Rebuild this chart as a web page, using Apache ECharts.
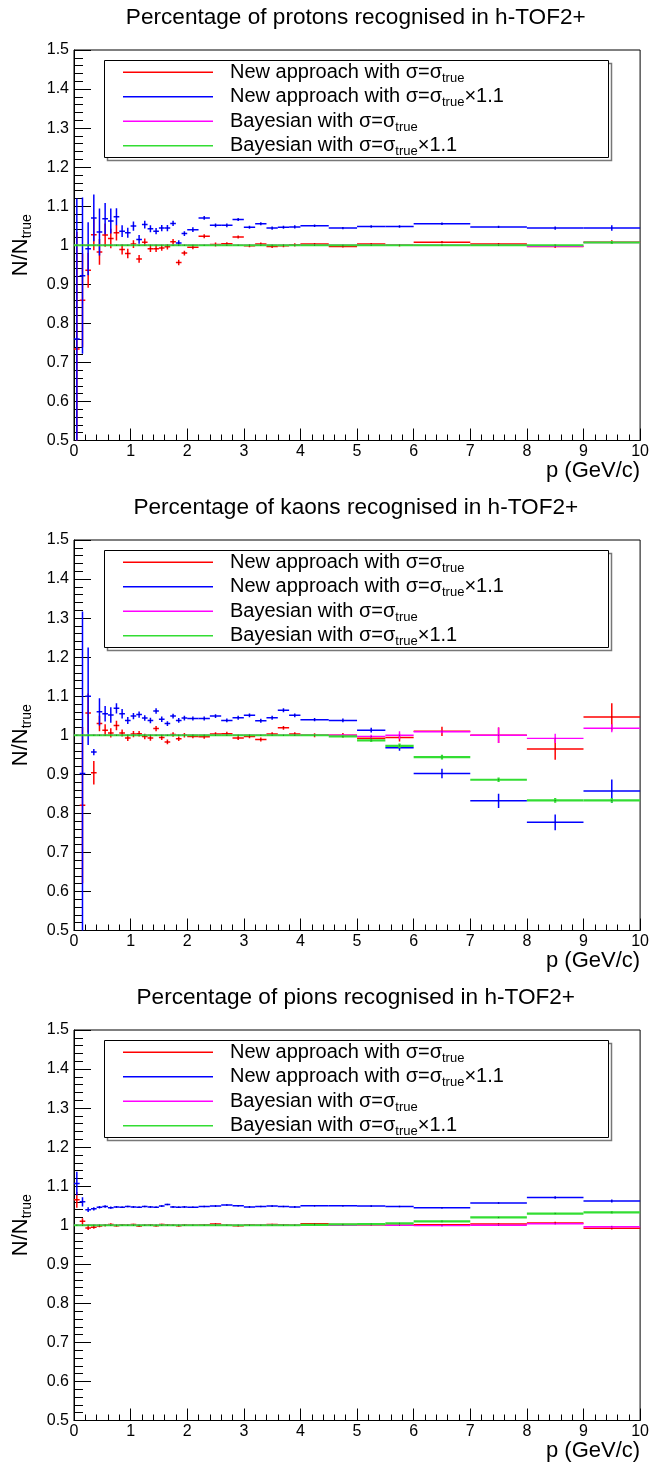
<!DOCTYPE html>
<html>
<head>
<meta charset="utf-8">
<script src="https://cdn.jsdelivr.net/npm/echarts@6/dist/echarts.min.js"></script>
<style>
html,body{margin:0;padding:0;background:#fff;}
#chart{width:652px;height:1466px;}
</style>
</head>
<body>
<div id="chart"></div>
<script>
// ---------------- data ----------------
// bin edges in p (GeV/c)
const binEdges = [0,0.1,0.2,0.3,0.4,0.5,0.6,0.7,0.8,0.9,1.0,1.1,1.2,1.3,1.4,1.5,1.6,1.7,1.8,1.9,2.0,
  2.2,2.4,2.6,2.8,3.0,3.2,3.4,3.6,3.8,4.0,4.5,5.0,5.5,6.0,7,8,9,10];

const panelTitles = [
  'Percentage of protons recognised in h-TOF2+',
  'Percentage of kaons recognised in h-TOF2+',
  'Percentage of pions recognised in h-TOF2+'
];
const seriesNames = [
  'New approach with σ=σtrue',
  'New approach with σ=σtrue×1.1',
  'Bayesian with σ=σtrue',
  'Bayesian with σ=σtrue×1.1'
];
const legendLabels = [
  'New approach with σ=σ{sub|true}',
  'New approach with σ=σ{sub|true}×1.1',
  'Bayesian with σ=σ{sub|true}',
  'Bayesian with σ=σ{sub|true}×1.1'
];
const xTickLabels = ['0','1','2','3','4','5','6','7','8','9','10'];

// ---- protons ----
const protonNewVal = [0.734,0.859,0.936,1.027,0.983,1.026,1.017,1.032,0.989,0.979,
  1.003,0.965,1.008,0.991,0.991,0.993,0.996,1.009,0.956,0.980,
  0.995,1.023,1.002,1.004,1.021,0.999,1.003,0.997,0.999,1.001,
  1.003,0.997,1.003,1.000, 1.008,1.003,0.997,1.008];
const protonNewErr = [0.30,0.12,0.045,0.040,0.033,0.030,0.025,0.020,0.013,0.012,
  0.010,0.010,0.009,0.008,0.008,0.007,0.007,0.007,0.007,0.006,
  0.005,0.005,0.005,0.004,0.004,0.004,0.004,0.004,0.004,0.004,
  0.003,0.003,0.003,0.003, 0.003,0.003,0.004,0.005];
const protonNew11Val = [0.760,0.922,0.991,1.070,1.034,1.068,1.062,1.073,1.036,1.032,
  1.049,1.015,1.053,1.042,1.036,1.044,1.044,1.056,1.006,1.030,
  1.040,1.070,1.051,1.051,1.066,1.046,1.055,1.044,1.046,1.047,
  1.050,1.044,1.048,1.048, 1.055,1.047,1.044,1.044];
const protonNew11Err = [0.36,0.20,0.068,0.060,0.060,0.040,0.032,0.022,0.015,0.013,
  0.012,0.011,0.010,0.009,0.008,0.008,0.008,0.007,0.007,0.006,
  0.006,0.005,0.005,0.005,0.004,0.004,0.004,0.004,0.004,0.004,
  0.003,0.003,0.003,0.003, 0.003,0.003,0.004,0.007];
const protonBayVal = [1,1,1,1,1,1,1,1,1,1, 1,1,1,1,1,1,1,1,1,1,
  1,1,1,1,1,1,1,1,1,1, 1,1,1,1, 1,1,0.997,1.007];
const protonBayErr = [0,0,0,0,0,0,0,0,0,0, 0,0,0,0,0,0,0,0,0,0,
  0,0,0,0,0,0,0,0,0,0, 0,0,0,0, 0.001,0.001,0.002,0.004];
const protonBay11Val = [1,1,1,1,1,1,1,1,1,1, 1,1,1,1,1,1,1,1,1,1,
  1,1,1,1,1,1,1,1,1,1, 1,1,1,1, 1,1,1,1.007];
const protonBay11Err = [0,0,0,0,0,0,0,0,0,0, 0,0,0,0,0,0,0,0,0,0,
  0,0,0,0,0,0,0,0,0,0, 0,0,0,0, 0.001,0.001,0.002,0.004];

// ---- kaons ----
const kaonNewVal = [null,0.821,1.057,0.904,1.030,1.013,1.006,1.025,1.006,0.993,
  1.003,1.004,0.997,0.993,1.017,0.994,0.983,1.002,0.991,1.000,
  0.997,0.996,1.003,1.004,0.993,0.997,0.989,1.003,1.019,1.003,
  1.000,1.000,0.992,0.994, 1.010,1.000,0.965,1.047];
const kaonNewErr = [null,0.20,0.050,0.030,0.020,0.015,0.012,0.012,0.009,0.008,
  0.008,0.007,0.007,0.007,0.007,0.006,0.006,0.006,0.006,0.006,
  0.005,0.005,0.005,0.005,0.005,0.005,0.005,0.005,0.005,0.005,
  0.005,0.006,0.007,0.010, 0.012,0.020,0.028,0.035];
const kaonNew11Val = [null,0.902,1.100,0.957,1.060,1.055,1.052,1.069,1.055,1.038,
  1.049,1.053,1.044,1.038,1.062,1.041,1.030,1.049,1.038,1.044,
  1.043,1.043,1.049,1.038,1.045,1.051,1.037,1.045,1.064,1.051,
  1.040,1.038,1.013,0.968, 0.902,0.832,0.777,0.857];
const kaonNew11Err = [null,0.415,0.125,0.008,0.035,0.020,0.020,0.013,0.012,0.009,
  0.008,0.008,0.007,0.007,0.007,0.007,0.006,0.006,0.006,0.006,
  0.005,0.005,0.005,0.005,0.005,0.005,0.005,0.005,0.005,0.005,
  0.004,0.005,0.006,0.008, 0.012,0.018,0.020,0.030];
const kaonBayVal = [1,1,1,1,1,1,1,1,1,1, 1,1,1,1,1,1,1,1,1,1,
  1,1,1,1,1,1,1,1,1,1, 1,1,0.997,1.000, 1.009,1.000,0.992,1.018];
const kaonBayErr = [0,0,0,0,0,0,0,0,0,0, 0,0,0,0,0,0,0,0,0,0,
  0,0,0,0,0,0,0,0,0,0, 0.002,0.003,0.004,0.010, 0.004,0.020,0.012,0.010];
const kaonBay11Val = [1,1,1,1,1,1,1,1,1,1, 1,1,1,1,1,1,1,1,1,1,
  1,1,1,1,1,1,1,1,1,1, 1,0.997,0.987,0.973, 0.944,0.886,0.833,0.833];
const kaonBay11Err = [0,0,0,0,0,0,0,0,0,0, 0,0,0,0,0,0,0,0,0,0,
  0,0,0,0,0,0,0,0,0,0, 0.002,0.003,0.004,0.006, 0.006,0.006,0.006,0.006];

// ---- pions ----
const pionNewVal = [1.065,1.010,0.993,0.995,0.998,1.000,1.002,0.999,1.001,1.000,
  1.002,0.998,1.000,1.001,0.999,1.002,1.001,1.000,0.999,1.001,
  1.000,1.001,1.003,1.000,0.999,1.001,1.000,1.002,1.001,1.000,
  1.004,1.002,1.001,1.000, 1.001,1.003,1.006,0.992];
const pionNewErr = [0.020,0.008,0.005,0.004,0.003,0.003,0.003,0.002,0.002,0.002,
  0.002,0.002,0.002,0.002,0.002,0.002,0.002,0.002,0.002,0.002,
  0.002,0.002,0.002,0.002,0.002,0.002,0.002,0.002,0.002,0.002,
  0.002,0.002,0.002,0.002, 0.002,0.002,0.003,0.003];
const pionNew11Val = [1.107,1.060,1.040,1.042,1.046,1.048,1.045,1.047,1.046,1.048,
  1.047,1.046,1.048,1.047,1.046,1.049,1.053,1.047,1.046,1.047,
  1.046,1.048,1.049,1.052,1.050,1.047,1.048,1.049,1.048,1.047,
  1.050,1.050,1.049,1.048, 1.045,1.057,1.071,1.062];
const pionNew11Err = [0.030,0.012,0.006,0.004,0.003,0.003,0.003,0.002,0.002,0.002,
  0.002,0.002,0.002,0.002,0.002,0.002,0.002,0.002,0.002,0.002,
  0.002,0.002,0.002,0.002,0.002,0.002,0.002,0.002,0.002,0.002,
  0.002,0.002,0.002,0.002, 0.002,0.002,0.003,0.004];
const pionBayVal = [1,1,1,1,1,1,1,1,1,1, 1,1,1,1,1,1,1,1,1,1,
  1,1,1,1,1,1,1,1,1,1, 1,1,1.001,1.000, 0.999,1.000,1.004,0.996];
const pionBayErr = [0,0,0,0,0,0,0,0,0,0, 0,0,0,0,0,0,0,0,0,0,
  0,0,0,0,0,0,0,0,0,0, 0.001,0.001,0.001,0.001, 0.002,0.002,0.002,0.003];
const pionBay11Val = [1,1,1,1,1,1,1,1,1,1, 1,1,1,1,1,1,1,1,1,1,
  1,1,1,1,1,1,1,1,1,1, 1.001,1.002,1.003,1.005, 1.010,1.020,1.030,1.033];
const pionBay11Err = [0,0,0,0,0,0,0,0,0,0, 0,0,0,0,0,0,0,0,0,0,
  0,0,0,0,0,0,0,0,0,0, 0.001,0.001,0.001,0.001, 0.002,0.002,0.002,0.003];

// ---------------- styling / layout ----------------
const FONT = "'Liberation Sans', Arial, Helvetica, sans-serif";
const COLORS = ['#ff0000', '#0000ff', '#ff00ff', '#33dd33'];
const LINE_W = [1.5, 1.5, 1.4, 2.2];
const PANEL_H = 490;
const GRID_LEFT = 68.3, GRID_W = 575, GRID_TOP = 50, GRID_H = 390.5;

const panelData = [
  [[protonNewVal, protonNewErr], [protonNew11Val, protonNew11Err], [protonBayVal, protonBayErr], [protonBay11Val, protonBay11Err]],
  [[kaonNewVal, kaonNewErr], [kaonNew11Val, kaonNew11Err], [kaonBayVal, kaonBayErr], [kaonBay11Val, kaonBay11Err]],
  [[pionNewVal, pionNewErr], [pionNew11Val, pionNew11Err], [pionBayVal, pionBayErr], [pionBay11Val, pionBay11Err]]
];

function buildData(vals, errs) {
  const out = [];
  for (let i = 0; i < vals.length; i++) {
    if (vals[i] === null) continue;
    out.push([binEdges[i], binEdges[i + 1], vals[i], errs[i]]);
  }
  return out;
}

function makeRender(lw) {
  return function (params, api) {
    const x0 = api.value(0), x1 = api.value(1), y = api.value(2), e = api.value(3);
    const xm = (x0 + x1) / 2;
    const pL = api.coord([x0, y]), pR = api.coord([x1, y]);
    const pM = api.coord([xm, y]);
    const c = api.visual('color');
    const children = [
      {type: 'line', shape: {x1: pL[0], y1: pL[1], x2: pR[0], y2: pR[1]}, style: {stroke: c, lineWidth: lw}}
    ];
    if (e > 0) {
      const pT = api.coord([xm, y + e]), pB = api.coord([xm, y - e]);
      children.push({type: 'line', shape: {x1: pT[0], y1: pT[1], x2: pB[0], y2: pB[1]}, style: {stroke: c, lineWidth: lw}});
    }
    children.push({type: 'rect', shape: {x: pM[0] - 0.5, y: pM[1] - 0.5, width: 1, height: 1}, style: {fill: '#000', opacity: 0.45}});
    return {type: 'group', children: children};
  };
}

const grids = [], xAxes = [], yAxes = [], series = [], titles = [], legends = [], graphics = [];
for (let p = 0; p < 3; p++) {
  const off = p * PANEL_H;
  grids.push({left: GRID_LEFT, top: GRID_TOP + off, width: GRID_W, height: GRID_H,
    show: true, borderColor: '#000', borderWidth: 1, backgroundColor: 'transparent'});
  xAxes.push({
    gridIndex: p, type: 'value', min: 0, max: 10, interval: 1,
    name: 'p (GeV/c)', nameLocation: 'end', nameGap: 0,
    nameTextStyle: {fontFamily: FONT, fontSize: 22, color: '#000', align: 'right', verticalAlign: 'top', padding: [19, 0, 0, 0]},
    axisLine: {show: true, lineStyle: {color: '#000', width: 1}},
    axisTick: {show: true, inside: true, length: 12, lineStyle: {color: '#000'}},
    minorTick: {show: true, splitNumber: 5, length: 6, lineStyle: {color: '#000'}},
    splitLine: {show: false}, minorSplitLine: {show: false},
    axisLabel: {fontFamily: FONT, fontSize: 16, color: '#000', margin: 3,
      formatter: function (v) { return xTickLabels[Math.round(v)]; }}
  });
  yAxes.push({
    gridIndex: p, type: 'value', min: 0.5, max: 1.5, interval: 0.1,
    name: 'N/N{sub|true}', nameLocation: 'middle', nameGap: 40, nameRotate: 90,
    nameTextStyle: {fontFamily: FONT, fontSize: 22, color: '#000', lineHeight: 26,
      rich: {sub: {fontFamily: FONT, fontSize: 14, color: '#000', verticalAlign: 'bottom', lineHeight: 26}}},
    axisLine: {show: true, lineStyle: {color: '#000', width: 1}},
    axisTick: {show: true, inside: true, length: 17, lineStyle: {color: '#000'}},
    minorTick: {show: true, splitNumber: 5, length: 9, lineStyle: {color: '#000'}},
    splitLine: {show: false}, minorSplitLine: {show: false},
    axisLabel: {fontFamily: FONT, fontSize: 16, color: '#000', margin: 5}
  });
  titles.push({
    text: panelTitles[p], left: 355.8, top: 6 + off, textAlign: 'center', padding: 0,
    textStyle: {fontFamily: FONT, fontSize: 22.6, fontWeight: 'normal', color: '#000'}
  });
  legends.push({
    orient: 'vertical', left: 123, top: 60 + off, padding: 0, itemGap: 0,
    itemWidth: 90, itemHeight: 1.6, selectedMode: false,
    data: seriesNames.map(function (n, i) { return {name: n, icon: 'rect', itemStyle: {color: COLORS[i]}}; }),
    formatter: function (name) { return legendLabels[seriesNames.indexOf(name)]; },
    textStyle: {fontFamily: FONT, fontSize: 20, color: '#000', lineHeight: 24.5, padding: [0, 0, 0, 12],
      rich: {sub: {fontFamily: FONT, fontSize: 13, color: '#000', verticalAlign: 'bottom', lineHeight: 24.5}}}
  });
  graphics.push({type: 'rect', left: 105, top: 61 + off, shape: {width: 504, height: 97}, style: {fill: 'none', stroke: '#777', lineWidth: 1.5}, z: 1});
  graphics.push({type: 'rect', left: 104, top: 60 + off, shape: {width: 504, height: 97}, style: {fill: '#fff', stroke: '#000', lineWidth: 1}, z: 2});
  for (let s = 0; s < 4; s++) {
    series.push({
      type: 'custom', name: seriesNames[s], xAxisIndex: p, yAxisIndex: p,
      clip: true, itemStyle: {color: COLORS[s]},
      renderItem: makeRender(LINE_W[s]),
      encode: {x: [0, 1], y: 2},
      data: buildData(panelData[p][s][0], panelData[p][s][1]),
      z: 3 + s
    });
  }
}

const chart = echarts.init(document.getElementById('chart'), null, {renderer: 'canvas'});
chart.setOption({
  backgroundColor: '#fff',
  animation: false,
  title: titles,
  legend: legends,
  grid: grids,
  xAxis: xAxes,
  yAxis: yAxes,
  graphic: graphics,
  series: series
});
</script>
</body>
</html>
